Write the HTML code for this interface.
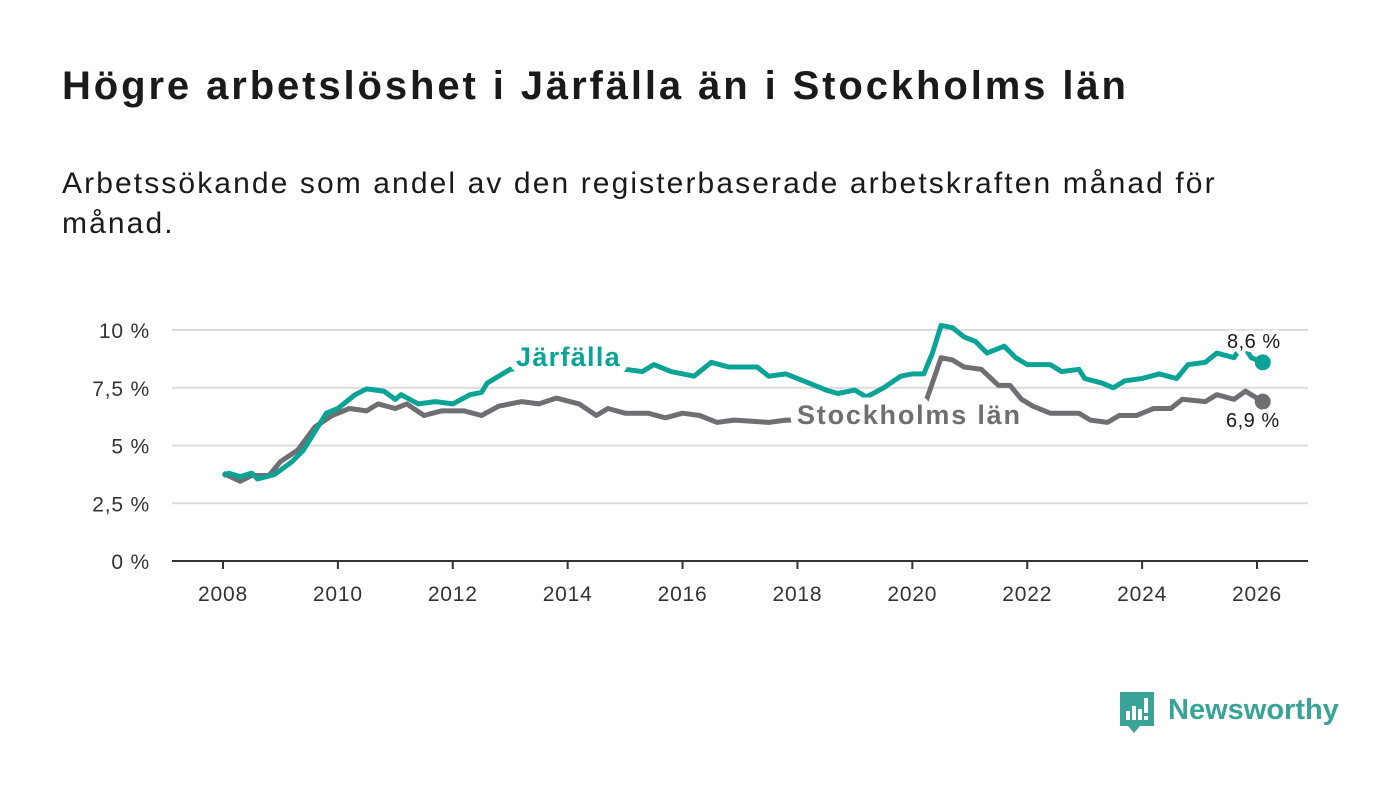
<!DOCTYPE html>
<html><head><meta charset="utf-8"><style>
body{margin:0;width:1400px;height:794px;background:#fff;font-family:"Liberation Sans",sans-serif;overflow:hidden;position:relative}
h1{position:absolute;left:62px;top:64px;margin:0;font-size:40px;font-weight:bold;color:#1a1a1a;letter-spacing:2.9px}
p{position:absolute;left:62px;top:164px;margin:0;font-size:30px;line-height:40px;color:#1a1a1a;width:1200px;letter-spacing:2.1px}
svg{position:absolute;left:0;top:0}
</style></head><body>
<h1>Högre arbetslöshet i Järfälla än i Stockholms län</h1>
<p>Arbetssökande som andel av den registerbaserade arbetskraften månad för månad.</p>
<svg width="1400" height="794">
<g id="grid"></g><g id="lines"></g><g id="labels"></g>
<g>
<path d="M1120 692 h34 v34 h-14 l-6 7 l-6 -7 h-8 z" fill="#3aa397"/>
<rect x="1126" y="711" width="4" height="9" fill="#fff"/><rect x="1132" y="706" width="4" height="14" fill="#fff"/><rect x="1138" y="709" width="4" height="11" fill="#fff"/><rect x="1144" y="698" width="4" height="15" fill="#fff"/><rect x="1144" y="716" width="4" height="4" fill="#fff"/>
<text x="1168" y="719" font-size="29" font-weight="bold" fill="#3aa397" font-family="Liberation Sans, sans-serif">Newsworthy</text>
</g>
</svg>
<script>
const yTicks=[0,2.5,5,7.5,10];
const yTickLabels=["0 %","2,5 %","5 %","7,5 %","10 %"];
const xTicks=[2008,2010,2012,2014,2016,2018,2020,2022,2024,2026];
const jT=[2008,2008.1,2008.3,2008.5,2008.6,2008.9,2009.2,2009.4,2009.6,2009.8,2010,2010.3,2010.5,2010.8,2011,2011.1,2011.4,2011.7,2012,2012.3,2012.5,2012.6,2013,2013.5,2014,2014.5,2015,2015.3,2015.5,2015.8,2016.2,2016.5,2016.8,2017.3,2017.5,2017.8,2018.2,2018.5,2018.7,2019,2019.2,2019.5,2019.8,2020,2020.2,2020.35,2020.5,2020.7,2020.9,2021.1,2021.3,2021.6,2021.8,2022,2022.4,2022.6,2022.9,2023,2023.3,2023.5,2023.7,2024,2024.3,2024.6,2024.8,2025.1,2025.3,2025.6,2025.75,2025.9,2026.1];
const jV=[3.7,3.8,3.65,3.8,3.55,3.75,4.3,4.8,5.6,6.4,6.6,7.2,7.45,7.35,7.0,7.2,6.8,6.9,6.8,7.2,7.3,7.7,8.3,8.4,8.5,8.4,8.3,8.2,8.5,8.2,8.0,8.6,8.4,8.4,8.0,8.1,7.7,7.4,7.25,7.4,7.1,7.5,8.0,8.1,8.1,9.0,10.2,10.1,9.7,9.5,9.0,9.3,8.8,8.5,8.5,8.2,8.3,7.9,7.7,7.5,7.8,7.9,8.1,7.9,8.5,8.6,9.0,8.8,9.4,8.8,8.6];
const sT=[2008,2008.3,2008.5,2008.8,2009,2009.3,2009.6,2009.9,2010.2,2010.5,2010.7,2011,2011.2,2011.5,2011.8,2012.2,2012.5,2012.8,2013.2,2013.5,2013.8,2014.2,2014.5,2014.7,2015,2015.4,2015.7,2016,2016.3,2016.6,2016.9,2017.2,2017.5,2017.8,2018.2,2018.6,2019,2019.4,2019.8,2020.1,2020.25,2020.5,2020.7,2020.9,2021.2,2021.5,2021.7,2021.9,2022.1,2022.4,2022.6,2022.9,2023.1,2023.4,2023.6,2023.9,2024.2,2024.5,2024.7,2025.1,2025.3,2025.6,2025.8,2026.1];
const sV=[3.8,3.45,3.7,3.7,4.3,4.8,5.8,6.3,6.6,6.5,6.8,6.6,6.8,6.3,6.5,6.5,6.3,6.7,6.9,6.8,7.05,6.8,6.3,6.6,6.4,6.4,6.2,6.4,6.3,6.0,6.1,6.05,6.0,6.1,6.1,6.0,5.9,6.0,6.2,6.3,7.0,8.8,8.7,8.4,8.3,7.6,7.6,7.0,6.7,6.4,6.4,6.4,6.1,6.0,6.3,6.3,6.6,6.6,7.0,6.9,7.2,7.0,7.35,6.9];
const X=t=>223+(t-2008)*(1257-223)/18, Y=v=>561-v*23.1;
const NS="http://www.w3.org/2000/svg";
function mk(tag,attrs,parent,txt){const e=document.createElementNS(NS,tag);for(const k in attrs)e.setAttribute(k,attrs[k]);if(txt!==undefined)e.textContent=txt;document.getElementById(parent).appendChild(e);return e;}
yTicks.forEach((v,i)=>{
 const l=mk("line",{x1:172,x2:1308,y1:Y(v),y2:Y(v),stroke:v===0?"#333":"#dcdcdc","stroke-width":2},"grid");
 
 
 const t=mk("text",{x:150,y:Y(v)+8,"text-anchor":"end","font-size":21,fill:"#333","letter-spacing":0.8},"grid",yTickLabels[i]);
 
 
});
xTicks.forEach(v=>{
 const l=mk("line",{x1:X(v),x2:X(v),y1:561,y2:569,stroke:"#333","stroke-width":2},"grid");
 
 
 const t=mk("text",{x:X(v),y:601,"text-anchor":"middle","font-size":21,fill:"#333","letter-spacing":0.8},"grid",String(v));
 
 
});
function line(T,V,col,name){
 const d=T.map((t,i)=>(i?"L":"M")+X(t).toFixed(1)+" "+Y(V[i]).toFixed(1)).join(" ");
 const p=mk("path",{d:d,fill:"none",stroke:col,"stroke-width":5,"stroke-linejoin":"round"},"lines");
 
 
 const c=mk("circle",{cx:X(T[T.length-1]),cy:Y(V[V.length-1]),r:8,fill:col},"lines");
 
 
}
line(sT,sV,"#706e73","stockholm");
line(jT,jV,"#0aa396","jarfalla");
function lab(x,y,txt,col,size,bold,ls,name){
 const t=mk("text",{x:x,y:y,"font-size":size,"font-weight":bold?"bold":"normal",fill:col,stroke:"#fff","stroke-width":bold?14:8,"paint-order":"stroke","stroke-linejoin":"round","letter-spacing":ls},"labels",txt);
 
 
}
lab(516,366,"Järfälla","#0aa396",27,true,1.3,"jarfalla-label");
lab(797,424,"Stockholms län","#706e73",27,true,1.8,"stockholm-label");
lab(1227,348,"8,6 %","#1a1a1a",20,false,0.5,"jarfalla-end-value");
lab(1226,427,"6,9 %","#1a1a1a",20,false,0.5,"stockholm-end-value");
</script>
</body></html>
